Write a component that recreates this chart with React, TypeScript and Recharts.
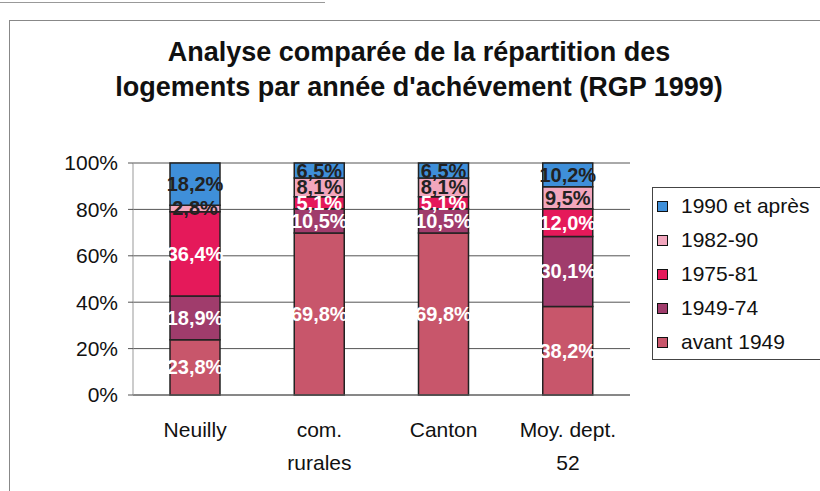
import React from "react";
import { BarChart, Bar, XAxis, YAxis, CartesianGrid, LabelList } from "recharts";

const categories = ["Neuilly", "com.\nrurales", "Canton", "Moy. dept.\n52"];
const avant1949 = [23.8, 69.8, 69.8, 38.2];
const p1949_74 = [18.9, 10.5, 10.5, 30.1];
const p1975_81 = [36.4, 5.1, 5.1, 12.0];
const p1982_90 = [2.8, 8.1, 8.1, 9.5];
const p1990plus = [18.2, 6.5, 6.5, 10.2];
const yTicks = [0, 0.2, 0.4, 0.6, 0.8, 1];
const titleLines = [
  "Analyse comparée de la répartition des",
  "logements par année d'achévement (RGP 1999)",
];

const series = [
  { key: "avant1949", name: "avant 1949", values: avant1949, color: "#c8566b", text: "#ffffff" },
  { key: "p1949_74", name: "1949-74", values: p1949_74, color: "#a03c6c", text: "#ffffff" },
  { key: "p1975_81", name: "1975-81", values: p1975_81, color: "#e5195a", text: "#ffffff" },
  { key: "p1982_90", name: "1982-90", values: p1982_90, color: "#f2a6bd", text: "#222222" },
  { key: "p1990plus", name: "1990 et après", values: p1990plus, color: "#3f8fd9", text: "#222222" },
];

const data = categories.map((c, i) => {
  const row: any = { cat: c };
  series.forEach((s) => (row[s.key] = s.values[i]));
  return row;
});

const FONT = "'Liberation Sans', Arial, sans-serif";

const makeLabel = (color: string) => (props: any) => {
  const { x, y, width, height, value } = props;
  if (value == null) return null;
  const txt = Number(value).toFixed(1).replace(".", ",") + "%";
  return (
    <text
      x={Number(x) + Number(width) / 2}
      y={Number(y) + Number(height) / 2}
      textAnchor="middle"
      dominantBaseline="central"
      fill={color}
      fontSize={20}
      fontWeight="bold"
      fontFamily={FONT}
    >
      {txt}
    </text>
  );
};

const XTick = (props: any) => {
  const { x, y, payload } = props;
  const lines = String(payload.value).split("\n");
  return (
    <g transform={`translate(${x},${y})`}>
      <text textAnchor="middle" fontSize={21} fill="#111" fontFamily={FONT}>
        {lines.map((l, i) => (
          <tspan key={i} x={0} dy={i === 0 ? 42 : 33}>
            {l}
          </tspan>
        ))}
      </text>
    </g>
  );
};

export default function App() {
  return (
    <div
      style={{
        position: "absolute",
        left: 0,
        top: 0,
        width: 820,
        height: 491,
        overflow: "hidden",
        background: "#fff",
        fontFamily: FONT,
      }}
    >
      <div style={{ position: "absolute", left: 0, top: 2, width: 325, height: 0, borderTop: "1px solid #999" }} />
      <div
        style={{
          position: "absolute",
          left: 9,
          top: 20,
          width: 900,
          height: 600,
          border: "1px solid #888",
        }}
      />
      <div style={{ position: "absolute", left: 0, top: 0 }}>
        <BarChart
          width={820}
          height={491}
          data={data}
          stackOffset="expand"
          margin={{ top: 163, right: 190, bottom: 66, left: 0 }}
        >
          <CartesianGrid vertical={false} stroke="#555" />
          <XAxis
            dataKey="cat"
            axisLine={{ stroke: "#666" }}
            tickLine={false}
            tickSize={0}
            tickMargin={0}
            tick={<XTick />}
            interval={0}
          />
          <YAxis
            width={133}
            domain={[0, 1]}
            ticks={yTicks}
            tickFormatter={(v: number) => `${Math.round(v * 100)}%`}
            axisLine={{ stroke: "#999" }}
            tickLine={{ stroke: "#555" }}
            tickSize={5}
            tickMargin={10}
            tick={{ fontSize: 21, fill: "#111", fontFamily: FONT }}
          />
          {series.map((s) => (
            <Bar
              key={s.key}
              dataKey={s.key}
              name={s.name}
              stackId="a"
              fill={s.color}
              stroke="#222"
              strokeWidth={1.5}
              barSize={50}
              isAnimationActive={false}
            >
              <LabelList dataKey={s.key} content={makeLabel(s.text)} />
            </Bar>
          ))}
        </BarChart>
      </div>
      <div
        style={{
          position: "absolute",
          left: 0,
          top: 35,
          width: 838,
          textAlign: "center",
          fontSize: 27,
          fontWeight: "bold",
          lineHeight: "35px",
          color: "#111",
        }}
      >
        {titleLines.map((l, i) => (
          <div key={i}>{l}</div>
        ))}
      </div>
      <div
        style={{
          position: "absolute",
          left: 652,
          top: 187,
          width: 170,
          height: 173,
          border: "1px solid #444",
          boxSizing: "border-box",
          paddingTop: 1,
          background: "#fff",
        }}
      >
        {[...series].reverse().map((s) => (
          <div key={s.key} style={{ display: "flex", alignItems: "center", height: 34, paddingLeft: 4 }}>
            <div
              style={{
                width: 11,
                height: 11,
                background: s.color,
                border: "1.5px solid #111",
                boxSizing: "border-box",
                marginRight: 13,
              }}
            />
            <span style={{ fontSize: 21, color: "#111", whiteSpace: "nowrap" }}>{s.name}</span>
          </div>
        ))}
      </div>
    </div>
  );
}
